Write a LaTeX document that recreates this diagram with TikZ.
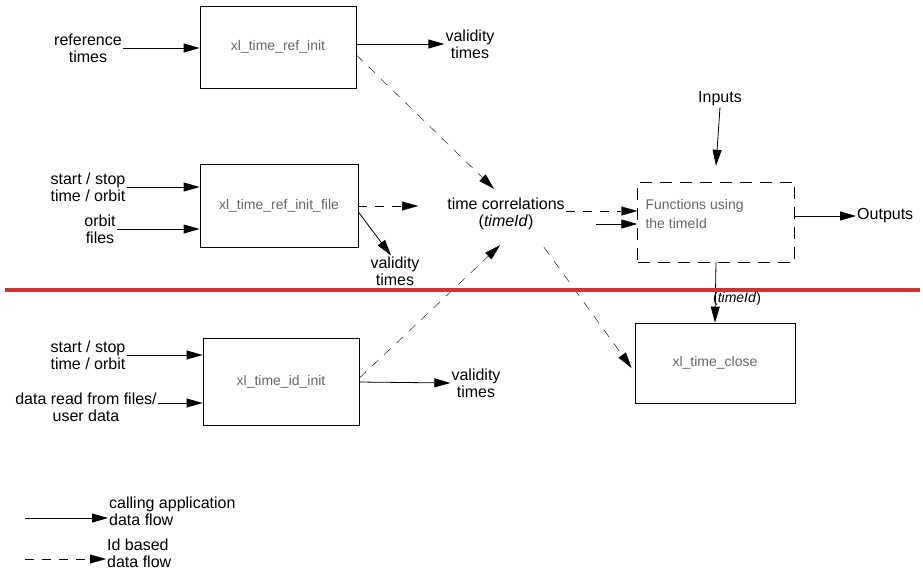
\documentclass[tikz,border=0pt]{standalone}
\usepackage{fontspec}
\setmainfont{Liberation Sans}
\usetikzlibrary{arrows.meta}
\definecolor{sepred}{RGB}{205,52,52}
\begin{document}
\begin{tikzpicture}[x=1pt,y=-1pt,>={Triangle[length=16pt,width=9pt]},
  flow/.style={thick,->},
  idflow/.style={thin,->,dash pattern=on 9pt off 8pt},
  fbox/.style={draw,thick,minimum width=156pt,minimum height=82pt,font=\fontsize{14}{16}\selectfont,text=black!60},
  lbl/.style={align=center,font=\fontsize{16}{17}\selectfont,inner sep=1pt}]
\useasboundingbox (0,0) rectangle (923,576);

% functions
\node[fbox] (refinit) at (278,47) {xl\_time\_ref\_init};
\node[fbox,minimum width=158pt,minimum height=83pt] (reffile) at (279,206) {xl\_time\_ref\_init\_file};
\node[fbox,minimum height=87pt] (idinit) at (281,382) {xl\_time\_id\_init};
\node[fbox,minimum width=160pt,minimum height=80pt] (close) at (715,363) {xl\_time\_close};
\node[fbox,dash pattern=on 12pt off 8pt,thin,minimum width=157pt,minimum height=80pt] (func) at (716,222) {};
\node[anchor=west,align=left,font=\fontsize{14}{19}\selectfont,text=black!60] (functxt) at (642,214) {Functions using\\the timeId};

% texts
\node[lbl] (reftimes) at (88,48) {reference\\times};
\node[lbl] (val1) at (470,44) {validity\\times};
\node[lbl] (ss1) at (88,187) {start / stop\\time / orbit};
\node[lbl] (orbfiles) at (100,229) {orbit\\files};
\node[lbl] (val2) at (395,271) {validity\\times};
\node[lbl] (timecorr) at (506,214) {time correlations\\(\textit{timeId})};
\node[lbl] (inputs) at (720,99) {Inputs};
\node[lbl,anchor=west] (outputs) at (856,216) {Outputs};
\node[lbl,font=\fontsize{14}{15}\selectfont] (tid) at (737,299) {(\textit{timeId})};
\node[lbl] (ss2) at (88,355) {start / stop\\time / orbit};
\node[lbl] (dataread) at (86,407) {data read from files/\\user data};
\node[lbl] (val3) at (476,383) {validity\\times};
\coordinate (drout) at ([yshift=4pt]dataread.east);

% calling application flow
\draw[flow] (reftimes.east) -- (refinit.west |- reftimes.east);
\draw[flow] (refinit.east |- val1) -- (val1.west);
\draw[flow] (ss1.east) -- (reffile.west |- ss1.east);
\draw[flow] (orbfiles.east) -- (reffile.west |- orbfiles.east);
\draw[flow] ([yshift=-6pt]reffile.east) -- ([xshift=-4pt]val2.north);
\draw[flow] ([xshift=30pt,yshift=-10pt]timecorr.east) -- ([yshift=-2pt]func.west);
\draw[flow] (inputs.south) -- ([yshift=16pt]func.north);
\draw[flow] (func.east |- outputs.west) -- (outputs.west);
\draw[flow] (func.south) -- (close.north);
\draw[flow] (ss2.east) -- (idinit.west |- ss2.east);
\draw[flow] (drout) -- (idinit.west |- drout);
\draw[flow] (idinit.east) -- (val3.west);

% id based flow
\draw[idflow] ([yshift=-8pt]refinit.east) -- ([xshift=-12pt,yshift=8pt]timecorr.north);
\draw[idflow] (reffile.east) -- ([xshift=-28pt]timecorr.west |- reffile.east);
\draw[idflow] ([yshift=3pt]timecorr.east) -- ([yshift=11pt]func.west);
\draw[idflow] ([yshift=4pt]idinit.east) -- ([xshift=-6pt,yshift=-14pt]timecorr.south);
\draw[idflow] ([xshift=-22pt,yshift=-16pt]timecorr.south east) -- ([xshift=-3pt,yshift=-5pt]close.west);

% separator
\draw[sepred,line width=4pt] (5,290) -- (920,290);

% legend
\coordinate (lga) at (25,518);
\coordinate (lgb) at (25,559);
\node[lbl,anchor=west,align=left] (lgcall) at (108,511) {calling application\\data flow};
\node[lbl,anchor=west,align=left] (lgid) at (106,553) {Id based\\data flow};
\draw[flow] (lga) -- (lga -| lgcall.west);
\draw[idflow] (lgb) -- (lgb -| lgid.west);
\end{tikzpicture}
\end{document}
